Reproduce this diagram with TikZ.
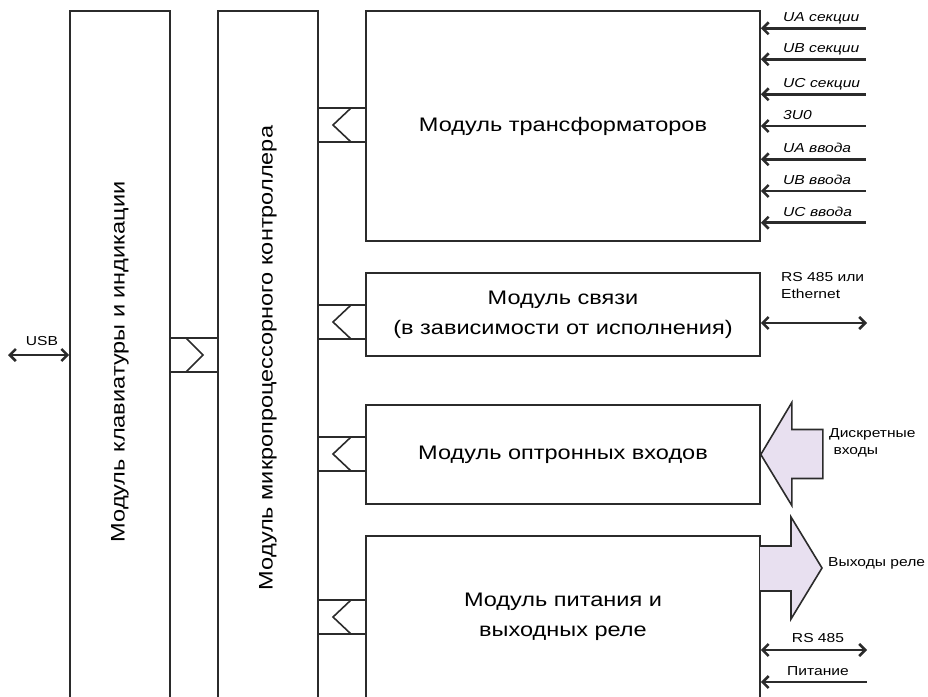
\documentclass[tikz,border=0pt]{standalone}
\usepackage{fontspec}
\setmainfont{Liberation Sans}[FakeStretch=1.2]
\usetikzlibrary{arrows.meta}
\definecolor{grafit}{rgb}{0.17, 0.17, 0.17}
\definecolor{lavanda}{rgb}{0.91, 0.88, 0.94}

\begin{document}
\begin{tikzpicture}[x=1pt,y=-1pt,
		modul/.style={draw=grafit,line width=1.6pt,inner sep=0pt,align=center,font=\fontsize{19.6}{30}\selectfont},
		tekst/.style={inner sep=0pt,font=\fontsize{19.6}{23}\selectfont},
		razjem/.style={draw=grafit,line width=1.6pt},
		strelka/.style={grafit,line width=2.6pt,{Straight Barb[length=6pt,width=12pt]}-},
		dvoynaya/.style={grafit,line width=2.6pt,{Straight Barb[length=6pt,width=12pt]}-{Straight Barb[length=6pt,width=12pt]}},
		tolstaya/.style={draw=grafit,fill=lavanda,line width=1.6pt,line join=miter},
		podpis/.style={inner sep=0pt,font=\fontsize{13}{17}\selectfont}]
				\useasboundingbox (0,0) rectangle (928,696);
				\clip (0,0) rectangle (928,696);
				% vertikalnye moduli
				\node[modul,minimum width=100pt,minimum height=699pt] (klav) at (120,360.5) {};
				\node[tekst,rotate=90] (klavtekst) at (120,362) {Модуль клавиатуры и индикации};
				\node[modul,minimum width=100pt,minimum height=699pt] (mk) at (268,360.5) {};
				\node[tekst,rotate=90] (mktekst) at (268,358) {Модуль микропроцессорного контроллера};
				% moduli sprava
				\node[modul,minimum width=394pt,minimum height=230pt] (trans) at (563,126) {Модуль трансформаторов};
				\node[modul,minimum width=394pt,minimum height=83pt] (svyaz) at (563,314.5) {Модуль связи\\(в зависимости от исполнения)};
				\node[modul,minimum width=394pt,minimum height=99pt] (opto) at (563,454.5) {Модуль оптронных входов};
				\node[modul,minimum width=394pt,minimum height=161.5pt] (pitanie) at (563,616.75) {Модуль питания и\\выходных реле};
				% razjemy
				\foreach \y in {108,305,437,600} {
					\draw[razjem] (318,\y) rectangle (366,{\y+34});
					\draw[razjem] (351,\y) -- (333,{\y+17}) -- (351,{\y+34});
				}
				\draw[razjem] (170,338) rectangle (218,372);
				\draw[razjem] (186,338) -- (203,355) -- (186,372);
				% USB
				\coordinate (usb) at (8,355);
				\draw[dvoynaya] (usb) -- (usb -| klav.west);
				\node[podpis,anchor=base] (usbtekst) at (42,345) {USB};
				% vhody transformatorov
				\foreach \i/\y/\txt in {1/28.3/UA секции,2/59.3/UB секции,3/94.3/UC секции,4/126/3U0,5/159.3/UA ввода,6/191/UB ввода,7/222.7/UC ввода} {
					\coordinate (v\i) at (866,\y);
					\draw[strelka] (v\i -| trans.east) -- (v\i);
					\node[podpis,anchor=base west,font=\fontsize{13}{17}\selectfont\itshape] (m\i) at (783,{\y-6.6}) {\txt};
				}
				% svyaz
				\coordinate (rs) at (867,323);
				\draw[dvoynaya] (rs -| svyaz.east) -- (rs);
				\node[podpis,anchor=base west,align=left] (rstekst) at (781,298) {RS 485 или\\Ethernet};
				% diskretnye vhody
				\draw[tolstaya] (opto.east) -- ++(31,-52) -- ++(0,27) -- ++(31,0) -- ++(0,49) -- ++(-31,0) -- ++(0,27) -- cycle;
				\node[podpis,anchor=base west,align=left] (diskr) at (829,454) {Дискретные\\\ входы};
				% vyhody rele
				\filldraw[tolstaya] (760,546) -- (791,546) -- (791,517) -- (822,568) -- (791,619) -- (791,591) -- (760,591);
				\node[podpis,anchor=base west] (vyhody) at (828,566) {Выходы реле};
				% RS 485 i pitanie
				\coordinate (rs2) at (867,650);
				\draw[dvoynaya] (rs2 -| pitanie.east) -- (rs2);
				\node[podpis,anchor=base] (rs2tekst) at (818,642) {RS 485};
				\coordinate (pit) at (867,682);
				\draw[strelka] (pit -| pitanie.east) -- (pit);
				\node[podpis,anchor=base] (pittekst) at (818,675) {Питание};
			\end{tikzpicture}
\end{document}
